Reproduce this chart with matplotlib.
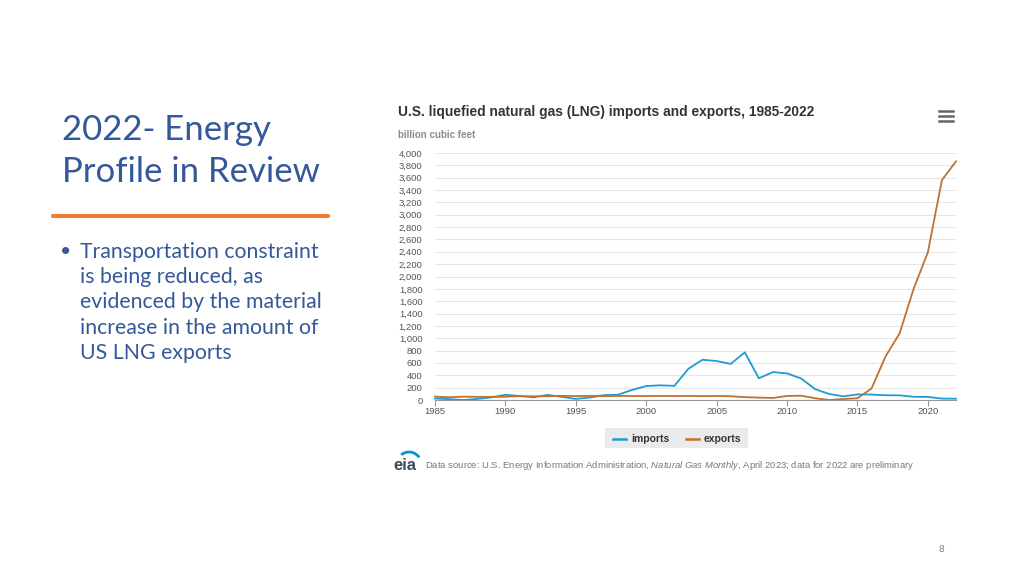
import numpy as np
import matplotlib
matplotlib.use("Agg")
import matplotlib.pyplot as plt
from matplotlib.lines import Line2D
from matplotlib.patches import Rectangle, Arc

plt.rcParams["mathtext.fontset"] = "custom"
plt.rcParams["mathtext.it"] = "Liberation Sans:italic"
plt.rcParams["mathtext.rm"] = "Liberation Sans"

# DATA (billion cubic feet)
years = list(range(1985, 2023))
imports = [24, 14, 0, 17, 42, 84, 64, 43, 82, 51, 18, 40, 78, 85, 163, 226,
           238, 229, 507, 652, 631, 584, 771, 352, 452, 431, 349, 175, 97, 59,
           91, 88, 77, 75, 52, 50, 23, 21]
exports = [55, 45, 54, 51, 51, 53, 63, 59, 61, 67, 64, 67, 62, 66, 64, 64,
           66, 64, 66, 62, 65, 61, 46, 39, 33, 65, 70, 28, 0, 16, 28, 186,
           707, 1081, 1807, 2390, 3561, 3866]
yticks = list(range(0, 4001, 200))
xticks = [1985, 1990, 1995, 2000, 2005, 2010, 2015, 2020]

slide_blue = "#34589a"
imp_color = "#1f9bd4"
exp_color = "#bf7230"

fig = plt.figure(figsize=(10.24, 5.76), dpi=100)
fig.patch.set_facecolor("white")

# LEFT TEXT
fig.text(62 / 1024, 1 - 130 / 576, "2022- Energy", fontsize=25, color=slide_blue,
         family="Lato", va="center", ha="left")
fig.text(62 / 1024, 1 - 172 / 576, "Profile in Review", fontsize=25, color=slide_blue,
         family="Lato", va="center", ha="left")
fig.add_artist(Line2D([53 / 1024, 328 / 1024], [1 - 216 / 576] * 2,
                      color="#ed7d31", lw=3, solid_capstyle="round"))
fig.text(60 / 1024, 1 - 251 / 576, "•", fontsize=14, color=slide_blue,
         family="Lato", va="center", ha="left")
bullet = ["Transportation constraint", "is being reduced, as",
          "evidenced by the material", "increase in the amount of",
          "US LNG exports"]
for i, line in enumerate(bullet):
    fig.text(80 / 1024, 1 - (252 + i * 25.2) / 576, line, fontsize=15.3,
             color=slide_blue, family="Lato", va="center", ha="left")

fig.text(941 / 1024, 1 - 549 / 576, "8", fontsize=7, color="#808080",
         family="Lato", va="center", ha="center")

# CHART
fig.text(398 / 1024, 1 - 112 / 576,
         "U.S. liquefied natural gas (LNG) imports and exports, 1985-2022",
         fontsize=9.9, fontweight="bold", color="#333333",
         family="Liberation Sans", va="center", ha="left")
fig.text(398 / 1024, 1 - 135 / 576, "billion cubic feet", fontsize=7,
         fontweight="bold", color="#8c8c8c", family="Liberation Sans",
         va="center", ha="left")

# hamburger menu icon
for dy in [111, 116, 121]:
    fig.add_artist(Line2D([939 / 1024, 953 / 1024], [1 - dy / 576] * 2,
                          color="#666666", lw=1.8))

ax = fig.add_axes([435 / 1024, 1 - 400 / 576, 521 / 1024, 247 / 576])
ax.set_xlim(1985, 2022)
ax.set_ylim(0, 4000)
ax.set_yticks(yticks)
ax.set_yticklabels([f"{v:,}" for v in yticks], fontsize=6.8, color="#555555",
                   family="Liberation Sans")
ax.set_xticks(xticks)
ax.set_xticklabels([str(v) for v in xticks], fontsize=6.8, color="#555555",
                   family="Liberation Sans")
ax.grid(axis="y", color="#e6e6e6", lw=0.8)
ax.set_axisbelow(True)
for s in ["top", "right", "left"]:
    ax.spines[s].set_visible(False)
ax.spines["bottom"].set_color("#999999")
ax.spines["bottom"].set_linewidth(0.8)
ax.tick_params(axis="y", length=0, pad=9)
ax.tick_params(axis="x", length=4, color="#999999", width=0.8, pad=1)
ax.set_facecolor("none")

ax.plot(years, imports, color=imp_color, lw=1.3, clip_on=False)
ax.plot(years, exports, color=exp_color, lw=1.3, clip_on=False)

# legend box
fig.add_artist(Rectangle((605 / 1024, 1 - 448 / 576), 143 / 1024, 20 / 576,
                         transform=fig.transFigure, facecolor="#ebebeb",
                         edgecolor="none"))
fig.add_artist(Line2D([613 / 1024, 626 / 1024], [1 - 439 / 576] * 2,
                      color=imp_color, lw=1.8))
fig.text(631 / 1024, 1 - 439 / 576, "imports", fontsize=7.5, fontweight="bold",
         color="#333333", family="Liberation Sans", va="center", ha="left")
fig.add_artist(Line2D([686 / 1024, 699 / 1024], [1 - 439 / 576] * 2,
                      color=exp_color, lw=1.8))
fig.text(704 / 1024, 1 - 439 / 576, "exports", fontsize=7.5, fontweight="bold",
         color="#333333", family="Liberation Sans", va="center", ha="left")

# eia logo and source
fig.text(393 / 1024, 1 - 465 / 576, "eia", fontsize=12, fontweight="bold",
         color="#3a4a5f", family="Liberation Sans", va="center", ha="left")
logo_ax = fig.add_axes([392 / 1024, 1 - 470 / 576, 30 / 1024, 20 / 576])
logo_ax.set_xlim(0, 30)
logo_ax.set_ylim(0, 20)
logo_ax.axis("off")
logo_ax.add_patch(Arc((17, 4), 26, 28, theta1=40, theta2=125, color="#0096d7", lw=2))

fig.text(425 / 1024, 1 - 465 / 576,
         r"Data source: U.S. Energy Information Administration, $\mathit{Natural\ Gas\ Monthly}$, April 2023; data for 2022 are preliminary",
         fontsize=6.8, color="#777777", family="Liberation Sans",
         va="center", ha="left")

fig.savefig("out.png", dpi=100, facecolor="white")
